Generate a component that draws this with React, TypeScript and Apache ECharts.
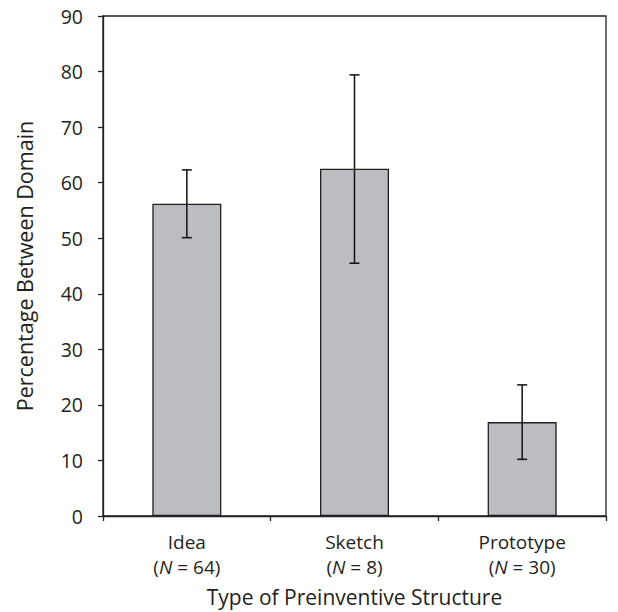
import React, { useEffect, useRef } from "react";
import * as echarts from "echarts";

const categories = ["Idea", "Sketch", "Prototype"];
const nLabels = ["64", "8", "30"];
const means = [56.2, 62.5, 16.9];
const errLow = [50.1, 45.5, 10.2];
const errHigh = [62.3, 79.4, 23.6];
const yTicks = { min: 0, max: 90, interval: 10 };

const FONT = "'Open Sans', 'Noto Sans', sans-serif";
const INK = "#231f20";

export default function App() {
  const ref = useRef<HTMLDivElement>(null);
  useEffect(() => {
    if (!ref.current) return;
    const chart = echarts.init(ref.current, undefined, { renderer: "svg" });
    const errData = categories.map((_, i) => [i, errLow[i], errHigh[i]]);
    chart.setOption({
      animation: false,
      backgroundColor: "#ffffff",
      grid: {
        left: 103,
        right: 12,
        top: 16,
        bottom: 96,
        show: true,
        borderColor: INK,
        borderWidth: 1.3,
        backgroundColor: "transparent",
      },
      xAxis: {
        type: "category",
        data: categories.map((c, i) => c + "\n({i|N} = " + nLabels[i] + ")"),
        name: "Type of Preinventive Structure",
        nameLocation: "middle",
        nameGap: 70,
        nameTextStyle: { fontFamily: FONT, fontSize: 21, color: INK },
        axisLine: { show: true, lineStyle: { color: INK, width: 1.3 } },
        axisTick: { show: true, length: 5, inside: false, lineStyle: { color: INK, width: 1.3 } },
        axisLabel: {
          fontFamily: FONT,
          fontSize: 19,
          color: INK,
          margin: 13,
          lineHeight: 25,
          rich: {
            i: { fontStyle: "italic", fontFamily: FONT, fontSize: 19, color: INK, lineHeight: 25 },
          },
        },
        splitLine: { show: false },
      },
      yAxis: {
        type: "value",
        min: yTicks.min,
        max: yTicks.max,
        interval: yTicks.interval,
        name: "Percentage Between Domain",
        nameLocation: "middle",
        nameGap: 68,
        nameTextStyle: { fontFamily: FONT, fontSize: 21.5, color: INK },
        axisLine: { show: true, lineStyle: { color: INK, width: 1.3 } },
        axisTick: { show: true, length: 5, lineStyle: { color: INK, width: 1.3 } },
        axisLabel: { fontFamily: FONT, fontSize: 19.5, color: INK, margin: 20 },
        splitLine: { show: false },
      },
      series: [
        {
          type: "bar",
          data: means,
          barWidth: 69,
          itemStyle: { color: "#bcbdc1", borderColor: INK, borderWidth: 1.3 },
          z: 2,
        },
        {
          type: "custom",
          data: errData,
          z: 3,
          renderItem: (params: any, api: any) => {
            const x = api.value(0);
            const lo = api.coord([x, api.value(1)]);
            const hi = api.coord([x, api.value(2)]);
            const hw = 5;
            const style = { stroke: "#111", lineWidth: 1.5 };
            return {
              type: "group",
              children: [
                { type: "line", shape: { x1: hi[0], y1: hi[1], x2: lo[0], y2: lo[1] }, style },
                { type: "line", shape: { x1: hi[0] - hw, y1: hi[1], x2: hi[0] + hw, y2: hi[1] }, style },
                { type: "line", shape: { x1: lo[0] - hw, y1: lo[1], x2: lo[0] + hw, y2: lo[1] }, style },
              ],
            };
          },
        },
      ],
    });
    return () => chart.dispose();
  }, []);
  return (
    <div
      ref={ref}
      style={{ position: "fixed", left: 0, top: 0, width: 618, height: 612 }}
    />
  );
}
